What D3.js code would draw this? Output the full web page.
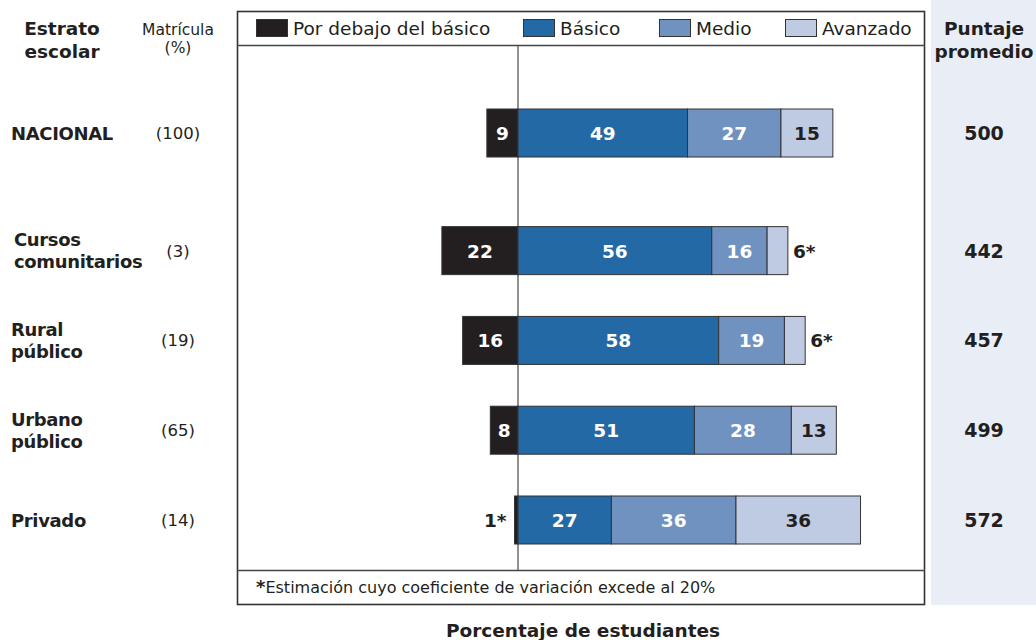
<!DOCTYPE html>
<html><head><meta charset="utf-8">
<script src="https://cdn.jsdelivr.net/npm/d3@7"></script>
<style>body{margin:0;background:#fff}svg{display:block}text{font-family:"DejaVu Sans",Verdana,sans-serif;fill:#231f20}</style>
</head><body><svg id="c" width="1036" height="640"></svg>
<script>
const categories = ["NACIONAL", "Cursos comunitarios", "Rural público", "Urbano público", "Privado"];
const matricula = ["(100)", "(3)", "(19)", "(65)", "(14)"];
const puntaje = [500, 442, 457, 499, 572];
const porDebajo = [9, 22, 16, 8, 1];
const basico = [49, 56, 58, 51, 27];
const medio = [27, 16, 19, 28, 36];
const avanzado = [15, 6, 6, 13, 36];
const estimado = [[false,false,false,false],[false,false,false,true],[false,false,false,true],[false,false,false,false],[true,false,false,false]];
const seriesNames = ["Por debajo del básico", "Básico", "Medio", "Avanzado"];
const colors = ["#231f20", "#2369a6", "#7092c0", "#bfcbe3"];
const labelColors = ["#fff", "#fff", "#fff", "#231f20"];

const svg = d3.select("#c");
const x = d3.scaleLinear().domain([0, 100]).range([518, 864]);
const rowPos = categories.map((c, i) => i + (i > 0 ? 0.31 : 0));
const y = d3.scaleLinear().domain([0, 4.31]).range([133, 520]);
const barH = 48;

// right panel
svg.append("rect").attr("x", 931).attr("y", 0).attr("width", 105).attr("height", 605).attr("fill", "#e9eef6");

// frame
const frame = svg.append("g");
frame.append("rect").attr("x", 237.5).attr("y", 11.5).attr("width", 687).attr("height", 593).attr("fill", "none").attr("stroke", "#333").attr("stroke-width", 1.6);
frame.append("line").attr("x1", 237).attr("x2", 925).attr("y1", 45.5).attr("y2", 45.5).attr("stroke", "#444").attr("stroke-width", 1.3);
frame.append("line").attr("x1", 237).attr("x2", 925).attr("y1", 570.5).attr("y2", 570.5).attr("stroke", "#444").attr("stroke-width", 1.3);
frame.append("line").attr("x1", x(0)).attr("x2", x(0)).attr("y1", 46).attr("y2", 570).attr("stroke", "#555").attr("stroke-width", 1.3);

// legend
const legX = [256, 523, 659, 785];
const leg = svg.append("g");
seriesNames.forEach((n, i) => {
  leg.append("rect").attr("x", legX[i] + 0.5).attr("y", 19.5).attr("width", 31).attr("height", 17).attr("fill", colors[i]).attr("stroke", "#333").attr("stroke-width", 1);
  leg.append("text").attr("x", legX[i] + 37).attr("y", 35).attr("font-size", 18.5).text(n);
});

// headers
const hdr = svg.append("g");
hdr.append("text").attr("x", 62).attr("y", 35).attr("text-anchor", "middle").attr("font-size", 18.5).attr("font-weight", "bold").text("Estrato");
hdr.append("text").attr("x", 62).attr("y", 58).attr("text-anchor", "middle").attr("font-size", 18.5).attr("font-weight", "bold").text("escolar");
hdr.append("text").attr("x", 178).attr("y", 35).attr("text-anchor", "middle").attr("font-size", 15.5).text("Matrícula");
hdr.append("text").attr("x", 178).attr("y", 53).attr("text-anchor", "middle").attr("font-size", 15.5).text("(%)");
hdr.append("text").attr("x", 984).attr("y", 35).attr("text-anchor", "middle").attr("font-size", 18.5).attr("font-weight", "bold").text("Puntaje");
hdr.append("text").attr("x", 984).attr("y", 58).attr("text-anchor", "middle").attr("font-size", 18.5).attr("font-weight", "bold").text("promedio");

// stacked data
const rows = categories.map((c, i) => {
  const vals = [porDebajo[i], basico[i], medio[i], avanzado[i]];
  const segs = [{k: 0, x0: -vals[0], x1: 0, v: vals[0]}];
  let acc = 0;
  for (let k = 1; k < 4; k++) { segs.push({k, x0: acc, x1: acc + vals[k], v: vals[k]}); acc += vals[k]; }
  return {c, i, segs, cy: y(rowPos[i])};
});

const g = svg.append("g");
rows.forEach(r => {
  r.segs.forEach(s => {
    g.append("rect").attr("x", x(s.x0)).attr("y", r.cy - barH / 2).attr("width", x(s.x1) - x(s.x0)).attr("height", barH)
      .attr("fill", colors[s.k]).attr("stroke", "#333").attr("stroke-width", 1);
    const w = x(s.x1) - x(s.x0);
    const est = estimado[r.i][s.k];
    const lab = s.v + (est ? "*" : "");
    if (!est && w > 20) {
      g.append("text").attr("x", (x(s.x0) + x(s.x1)) / 2).attr("y", r.cy + 7).attr("text-anchor", "middle")
        .attr("font-size", 18.5).attr("font-weight", "bold").style("fill", labelColors[s.k]).text(lab);
    } else if (s.k === 0) {
      g.append("text").attr("x", x(s.x0) - 8).attr("y", r.cy + 7).attr("text-anchor", "end")
        .attr("font-size", 18.5).attr("font-weight", "bold").text(lab);
    } else {
      g.append("text").attr("x", x(s.x1) + 5).attr("y", r.cy + 7).attr("text-anchor", "start")
        .attr("font-size", 18.5).attr("font-weight", "bold").text(lab);
    }
  });
  // category label
  const parts = r.c === "NACIONAL" || r.c === "Privado" ? [r.c] : r.c.split(" ");
  const lx = r.c === "Cursos comunitarios" ? 14 : 11;
  parts.forEach((p, j) => {
    const off = parts.length === 1 ? 0 : (j === 0 ? -11 : 11);
    g.append("text").attr("x", lx).attr("y", r.cy + off + 6.5).attr("font-size", 18).attr("font-weight", "bold").attr("letter-spacing", -0.35).text(p);
  });
  g.append("text").attr("x", 178).attr("y", r.cy + 6).attr("text-anchor", "middle").attr("font-size", 16.5).text(matricula[r.i]);
  g.append("text").attr("x", 984).attr("y", r.cy + 7).attr("text-anchor", "middle").attr("font-size", 19).attr("font-weight", "bold").text(puntaje[r.i]);
});

// footnote & axis title
const fn = svg.append("text").attr("x", 256).attr("y", 593).attr("font-size", 16);
fn.append("tspan").attr("font-weight", "bold").attr("font-size", 18).text("*");
fn.append("tspan").text("Estimación cuyo coeficiente de variación excede al 20%");
svg.append("text").attr("x", 583).attr("y", 637).attr("text-anchor", "middle").attr("font-size", 18.5).attr("font-weight", "bold").text("Porcentaje de estudiantes");
</script></body></html>
